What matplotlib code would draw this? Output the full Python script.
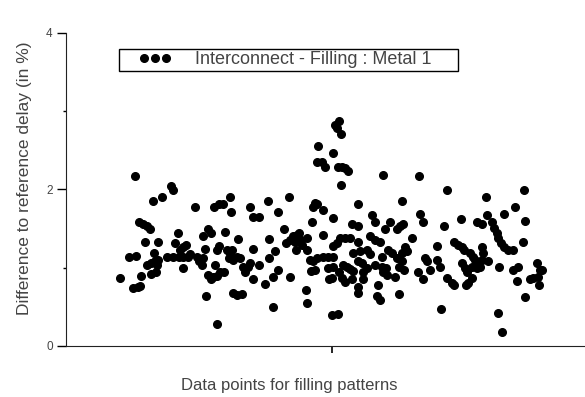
import matplotlib
matplotlib.use("Agg")
import matplotlib.pyplot as plt
from matplotlib.patches import Rectangle

plt.rcParams['font.family'] = ['Liberation Sans', 'DejaVu Sans']

# data points (pattern position, delay difference in %)
pattern_x = [
    27, 31.5, 35, 34.5, 33.5, 36, 37, 37.5, 36.5, 38.5, 40.5, 42, 39.5, 40.5, 42.5, 44.5,
    46, 45.5, 42.5, 45, 44, 46, 43.5, 48, 52.5, 53.5, 50.5, 53.5, 56.5, 58.5, 61, 62,
    54.5, 56, 57, 58.5, 60, 58.5, 64.5, 65.5, 66.5, 68, 68.5, 69.5, 68.5, 71, 72.5, 70,
    71, 72.5, 73.5, 75.5, 77, 79, 74, 76.5, 78.5, 74.5, 75.5, 76.5, 75.5, 79.5, 82, 82.5,
    80.5, 82, 83, 81.5, 83.5, 85.5, 87, 83.5, 85.5, 88, 86, 88.5, 89.5, 91, 92, 92,
    93.5, 96.5, 93.5, 93.5, 96.5, 99.5, 101, 101.5, 101.5, 103.5, 103.5, 106, 104.5, 106, 109, 110,
    112, 113.5, 114.5, 115.5, 116.5, 117.5, 118, 111.5, 112, 115, 120.5, 120.5, 120, 120.5, 122, 123.5,
    125.5, 122.5, 124.5, 123, 123.5, 124.5, 125.5, 125.5, 126,
    136.5, 134.5, 135.5, 137.5, 128, 129.5, 133.5, 136, 138, 139.5, 141, 137.5, 158.5, 176.5, 190.5, 210,
    229, 128.5, 146, 168, 133.5, 128.5, 143, 146, 153, 154.5, 162, 165.5, 167, 168.5, 159.5, 152,
    154.5, 157, 137, 139.5, 142, 133.5, 135.5, 146, 143.5, 147, 150.5, 152, 158, 161, 163, 168,
    169.5, 170.5, 173, 177, 178.5, 189, 185.5, 197.5, 205.5, 208, 210.5, 213, 214, 215.5, 216, 217.5,
    219, 221, 223.5, 219, 224.5, 229.5, 228.5, 128.5, 131, 133.5, 131, 133.5, 138.5, 140.5, 142, 143.5,
    146, 148, 148.5, 150.5, 154.5, 158, 158.5, 160, 160.5, 164.5, 165.5, 166.5, 168, 169, 136.5, 138,
    131.5, 133, 139.5, 143, 148.5, 156, 146, 146, 155.5, 157, 166.5, 133, 136, 176, 178.5, 179.5,
    180.5, 182, 185.5, 187, 190.5, 193, 194, 187.5, 194, 196, 198, 199, 198, 199.5, 200.5, 200,
    201, 203, 202, 203.5, 204.5, 206, 208, 203, 205.5, 207, 208.5, 208, 211, 216.5, 216, 218,
    223.5, 226, 225.5, 229.5, 232, 233.5, 235.5, 237, 236, 236.5, 238,
]
delay_diff = [
    0.87, 1.14, 1.15, 2.17, 0.74, 0.76, 0.77, 0.90, 1.59, 1.56, 1.53, 1.50, 1.33, 1.04, 1.06, 1.08,
    1.10, 1.03, 0.92, 0.95, 1.19, 1.33, 1.85, 1.91, 2.05, 1.99, 1.14, 1.14, 1.14, 1.14, 1.14, 1.17,
    1.32, 1.45, 1.23, 1.27, 1.29, 1.00, 1.78, 1.14, 1.08, 1.04, 1.12, 1.24, 1.41, 1.49, 1.45, 0.64,
    0.91, 0.85, 0.88, 0.90, 0.94, 0.95, 1.77, 1.81, 1.82, 1.04, 0.28, 1.28, 1.23, 1.46, 1.90, 1.71,
    1.23, 1.19, 1.23, 1.12, 1.10, 1.14, 1.13, 0.68, 0.65, 0.67, 1.37, 1.01, 0.95, 1.01, 1.06, 1.77,
    1.65, 1.65, 1.24, 0.86, 1.04, 0.79, 1.85, 1.37, 1.13, 0.50, 0.88, 0.97, 1.22, 1.71, 1.50, 1.32,
    1.36, 1.40, 1.33, 1.42, 1.45, 1.36, 1.29, 1.90, 0.88, 1.23, 1.38, 1.23, 0.71, 0.55, 1.10, 1.08,
    1.12, 0.96, 0.97, 1.58, 1.78, 1.83, 1.81, 2.35, 2.55,
    2.88, 2.82, 2.78, 2.71, 2.35, 2.29, 2.47, 2.29, 2.29, 2.27, 2.23, 2.06, 2.18, 2.17, 1.99, 1.91,
    1.99, 1.74, 1.81, 1.85, 1.63, 1.42, 1.56, 1.53, 1.68, 1.58, 1.59, 1.49, 1.53, 1.56, 1.49, 1.41,
    1.36, 1.33, 1.38, 1.38, 1.38, 1.28, 1.32, 1.33, 1.19, 1.21, 1.23, 1.17, 1.14, 1.23, 1.19, 1.19,
    1.26, 1.22, 1.38, 1.69, 1.59, 1.53, 1.28, 1.62, 1.58, 1.56, 1.68, 1.59, 1.51, 1.45, 1.38, 1.32,
    1.27, 1.23, 1.23, 1.69, 1.78, 1.60, 1.33, 1.14, 1.14, 1.14, 1.00, 1.01, 1.04, 1.01, 0.99, 0.96,
    1.08, 1.06, 0.95, 1.00, 1.03, 1.01, 0.95, 1.00, 0.91, 0.88, 1.13, 1.01, 1.08, 0.97, 0.94, 0.87,
    0.86, 0.87, 0.82, 0.85, 0.85, 0.78, 0.76, 0.68, 0.64, 0.59, 0.67, 0.40, 0.41, 0.95, 0.85, 1.13,
    1.08, 0.97, 1.10, 1.01, 0.87, 0.81, 0.78, 0.47, 1.33, 1.29, 1.27, 1.23, 1.06, 1.00, 0.94, 0.78,
    0.81, 0.87, 1.19, 1.14, 1.10, 1.06, 1.10, 1.01, 1.00, 1.01, 1.19, 1.27, 1.08, 1.01, 0.42, 0.18,
    0.97, 1.01, 0.83, 0.62, 0.86, 0.87, 1.06, 0.97, 0.88, 0.78, 0.97,
]

y_ticks = [0, 2, 4]
y_minor = [1, 3]
x_mid_tick = [133]

TEXT = '#444444'

fig = plt.figure(figsize=(5.85, 3.97), dpi=100)
ax = fig.add_axes([0.1128, 0.1285, 0.8872, 0.7885])

ax.plot(pattern_x, delay_diff, 'o', color='black', markersize=5.5, linestyle='none',
        label='Interconnect - Filling : Metal 1')

ax.set_xlim(0, 259.5)
ax.set_ylim(0, 4)
ax.set_yticks(y_ticks)
ax.set_yticks(y_minor, minor=True)
ax.set_yticklabels([str(t) for t in y_ticks])
ax.set_xticks(x_mid_tick)
ax.set_xticklabels([])

ax.spines['top'].set_visible(False)
ax.spines['right'].set_visible(False)
ax.spines['left'].set_color('#222222')
ax.spines['bottom'].set_color('#222222')
ax.tick_params(axis='y', which='major', direction='out', length=6.5, width=1,
               labelsize=8.5, labelcolor=TEXT, pad=3)
ax.tick_params(axis='y', which='minor', direction='out', length=2, width=1)
ax.tick_params(axis='x', direction='out', length=5, width=1.2)

ax.set_ylabel('Difference to reference delay (in %)', fontsize=12.5, color=TEXT)
ax.yaxis.set_label_coords(-0.066, 0.537)
fig.text(0.494, 0.03, 'Data points for filling patterns', fontsize=12, color=TEXT,
         ha='center', va='center')

# legend without its own frame, box drawn separately
leg = ax.legend(loc='center', bbox_to_anchor=(0.487, 0.849), bbox_transform=fig.transFigure,
                numpoints=3, frameon=False, fontsize=13, handlelength=1.8,
                handletextpad=1.3, borderpad=0.1, borderaxespad=0)
for t in leg.get_texts():
    t.set_color(TEXT)
fig.patches.append(Rectangle((0.2034, 0.8212), 0.5795, 0.0554, transform=fig.transFigure,
                             fill=False, edgecolor='black', linewidth=1.0))

fig.savefig('out.png', dpi=100)
